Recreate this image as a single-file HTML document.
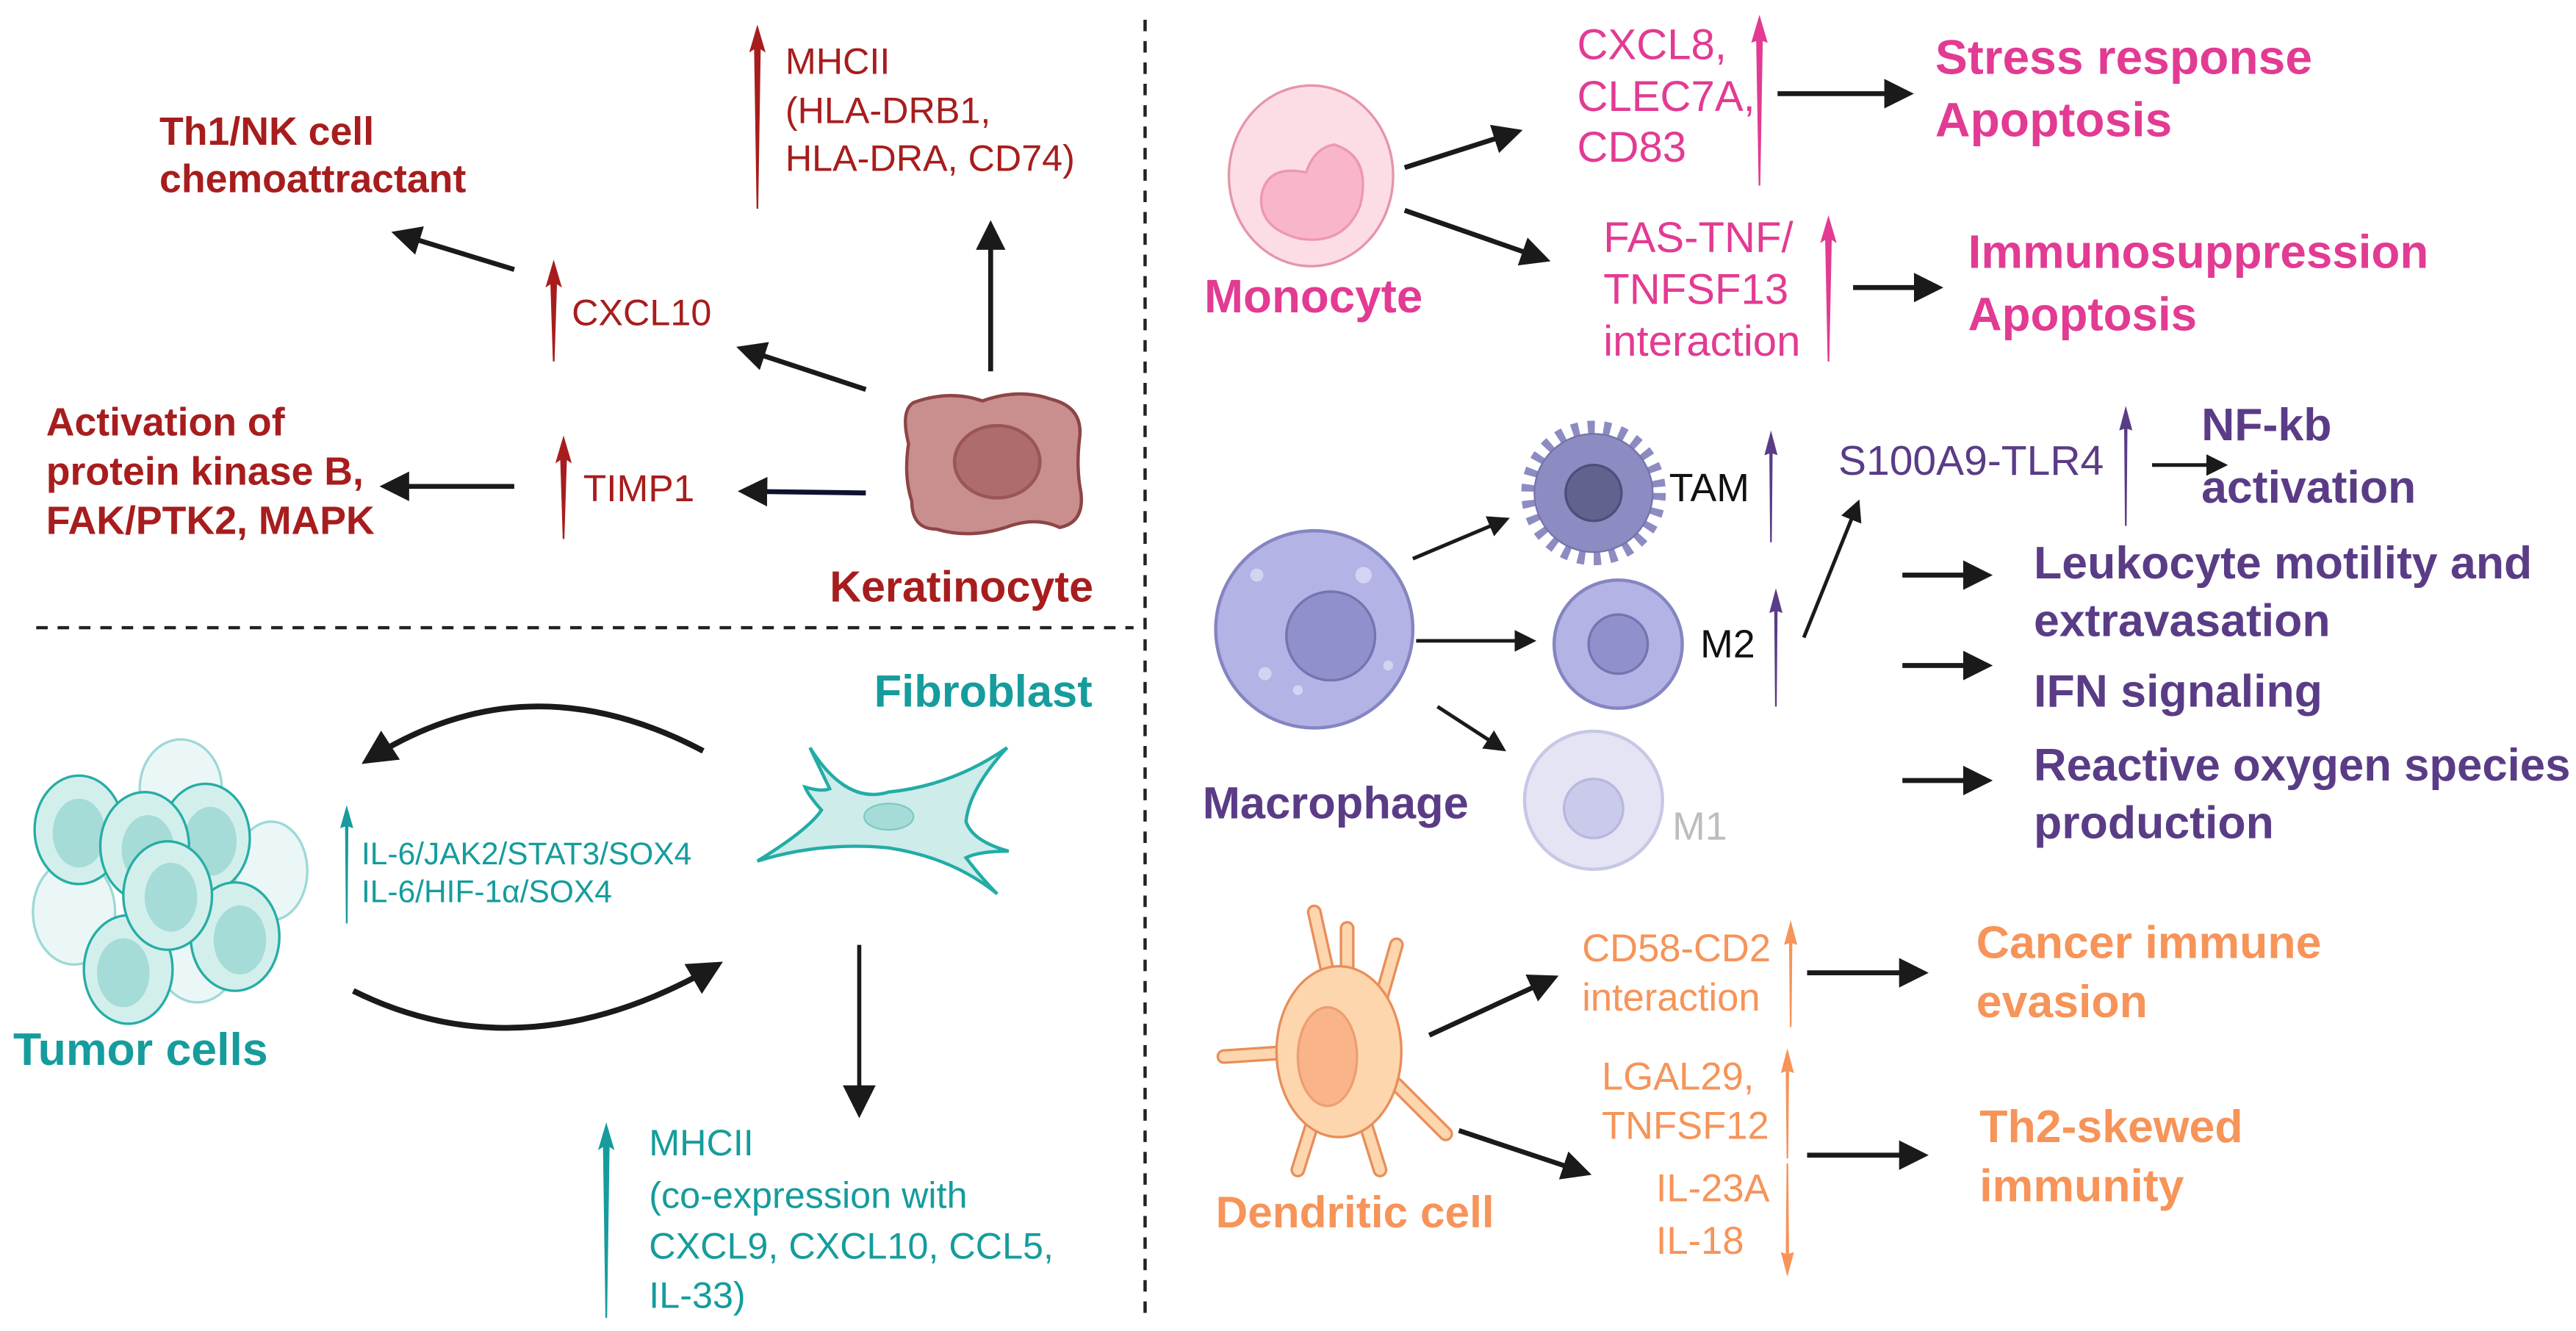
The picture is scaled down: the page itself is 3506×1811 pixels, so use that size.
<!DOCTYPE html>
<html><head><meta charset="utf-8"><style>
html,body{margin:0;padding:0;background:#fff;}
svg{display:block;}
text{font-family:"Liberation Sans",Arial,sans-serif;}
.b{font-weight:bold;}
</style></head><body>
<svg width="3506" height="1811" viewBox="0 0 1568 810" xmlns="http://www.w3.org/2000/svg">
<defs>
<marker id="ah" markerWidth="6" markerHeight="6" refX="5" refY="3" orient="auto" markerUnits="strokeWidth"><path d="M0,0 L6,3 L0,6 Z" fill="#1a1a1a"/></marker>
<marker id="ahs" markerWidth="8" markerHeight="8" refX="7" refY="4" orient="auto" markerUnits="strokeWidth"><path d="M0,0 L8,4 L0,8 Z" fill="#1a1a1a"/></marker>
</defs>

<!-- dividers -->
<line x1="697" y1="12" x2="697" y2="805" stroke="#222" stroke-width="2" stroke-dasharray="7,6"/>
<line x1="22" y1="382" x2="690" y2="382" stroke="#222" stroke-width="2" stroke-dasharray="7,6"/>

<!-- ===== Keratinocyte ===== -->
<g fill="#A71D1D">
<text class="b" x="97" y="88" font-size="24">Th1/NK cell</text>
<text class="b" x="97" y="117" font-size="24">chemoattractant</text>
<text x="478" y="45" font-size="22.5">MHCII</text>
<text x="478" y="75" font-size="22.5">(HLA-DRB1,</text>
<text x="478" y="104" font-size="22.5">HLA-DRA, CD74)</text>
<text x="348" y="198" font-size="22.5">CXCL10</text>
<text x="355" y="305" font-size="23">TIMP1</text>
<text class="b" x="28" y="265" font-size="24">Activation of</text>
<text class="b" x="28" y="295" font-size="24">protein kinase B,</text>
<text class="b" x="28" y="325" font-size="24">FAK/PTK2, MAPK</text>
<text class="b" x="505" y="366" font-size="26.5">Keratinocyte</text>
<polygon points="461,15 466,32 463,30 461.5,127 460.5,127 459,30 456,32"/>
<polygon points="337,158 342,175 339,173 337.5,220 336.5,220 335,173 332,175"/>
<polygon points="343,265 348,282 345,280 343.5,328 342.5,328 341,280 338,282"/>
</g>
<g stroke="#1a1a1a" stroke-width="3" fill="none" marker-end="url(#ah)">
<line x1="603" y1="226" x2="603" y2="137"/>
<line x1="313" y1="164" x2="241" y2="142"/>
<line x1="527" y1="237" x2="451" y2="212"/>
<line x1="313" y1="296" x2="234" y2="296"/>
<line x1="527" y1="300" x2="452" y2="299" stroke="#101030"/>
</g>
<path d="M556,245 Q578,237 598,244 Q620,236 640,243 Q660,248 657,268 Q655,285 658,300 Q660,318 645,321 Q630,314 612,321 Q590,328 570,322 Q555,322 555,305 Q550,290 553,270 Q548,250 556,245 Z" fill="#C98F8F" stroke="#8E4545" stroke-width="2"/>
<ellipse cx="607" cy="281" rx="22" ry="26" transform="rotate(90 607 281)" fill="#AE6C6C" stroke="#9A5656" stroke-width="2"/>

<!-- ===== Fibroblast / tumor ===== -->
<g fill="#169C9C">
<text class="b" x="532" y="430" font-size="27.5">Fibroblast</text>
<text x="220" y="526" font-size="19">IL-6/JAK2/STAT3/SOX4</text>
<text x="220" y="549" font-size="19">IL-6/HIF-1α/SOX4</text>
<text class="b" x="8" y="648" font-size="28">Tumor cells</text>
<text x="395" y="703" font-size="22.5">MHCII</text>
<text x="395" y="735" font-size="22.5">(co-expression with</text>
<text x="395" y="766" font-size="22.5">CXCL9, CXCL10, CCL5,</text>
<text x="395" y="796" font-size="22.5">IL-33)</text>
<polygon points="211,490 215,504 212,503 211.5,562 210.5,562 210,503 207,504"/>
<polygon points="369,683 374,700 371,698 369.5,802 368.5,802 367,698 364,700"/>
</g>
<g stroke="#1a1a1a" stroke-width="3.5" fill="none" marker-end="url(#ah)">
<path d="M428,457 Q320,400 223,463"/>
<path d="M215,603 Q320,655 437,587"/>
</g>
<line x1="523" y1="575" x2="523" y2="678" stroke="#1a1a1a" stroke-width="2.5" marker-end="url(#ahs)"/>
<path d="M493,455 Q515,490 541,482 Q580,478 613,455 Q590,480 588,500 Q592,512 614,518 Q596,518 588,522 Q598,535 607,544 Q580,522 541,516 Q500,512 461,524 Q492,505 500,493 Q492,484 490,479 Q500,482 505,480 Z" fill="#CDECEA" stroke="#23ACA6" stroke-width="2"/>
<ellipse cx="541" cy="497" rx="15" ry="8" fill="#A6DCD8" stroke="#7CC9C3" stroke-width="1"/>
<g stroke="#27ADA5" stroke-width="1.5">
<g opacity="0.45">
<ellipse cx="110" cy="480" rx="25" ry="30" fill="#D3EFEC"/>
<ellipse cx="165" cy="530" rx="22" ry="30" fill="#D3EFEC"/>
<ellipse cx="45" cy="555" rx="25" ry="32" fill="#D3EFEC"/>
<ellipse cx="120" cy="580" rx="25" ry="30" fill="#D3EFEC"/>
</g>
<ellipse cx="48" cy="505" rx="27" ry="33" fill="#D3EFEC"/><ellipse cx="48" cy="507" rx="16" ry="21" fill="#A6DCD8" stroke="none"/>
<ellipse cx="125" cy="510" rx="27" ry="33" fill="#D3EFEC"/><ellipse cx="128" cy="512" rx="16" ry="21" fill="#A6DCD8" stroke="none"/>
<ellipse cx="88" cy="515" rx="27" ry="33" fill="#D3EFEC"/><ellipse cx="90" cy="517" rx="16" ry="21" fill="#A6DCD8" stroke="none"/>
<ellipse cx="143" cy="570" rx="27" ry="33" fill="#D3EFEC"/><ellipse cx="146" cy="572" rx="16" ry="21" fill="#A6DCD8" stroke="none"/>
<ellipse cx="78" cy="590" rx="27" ry="33" fill="#D3EFEC"/><ellipse cx="75" cy="592" rx="16" ry="21" fill="#A6DCD8" stroke="none"/>
<ellipse cx="102" cy="545" rx="27" ry="33" fill="#D3EFEC"/><ellipse cx="104" cy="546" rx="16" ry="21" fill="#A6DCD8" stroke="none"/>
</g>

<!-- ===== Monocyte ===== -->
<g fill="#E23B93">
<text class="b" x="733" y="190" font-size="28.5">Monocyte</text>
<text x="960" y="36" font-size="26">CXCL8,</text>
<text x="960" y="67.5" font-size="26">CLEC7A,</text>
<text x="960" y="98.5" font-size="26">CD83</text>
<text x="976" y="153.5" font-size="26">FAS-TNF/</text>
<text x="976" y="185" font-size="26">TNFSF13</text>
<text x="976" y="216.5" font-size="26">interaction</text>
<text class="b" x="1178" y="45" font-size="29.5">Stress response</text>
<text class="b" x="1178" y="83" font-size="29.5">Apoptosis</text>
<text class="b" x="1198" y="163" font-size="28.5">Immunosuppression</text>
<text class="b" x="1198" y="201" font-size="28.5">Apoptosis</text>
<polygon points="1071,9 1076,26 1073,25 1071.5,113 1070.5,113 1069,25 1066,26"/>
<polygon points="1113,131 1118,148 1115,146 1113.5,220 1112.5,220 1111,146 1108,148"/>
</g>
<g stroke="#1a1a1a" stroke-width="3" fill="none" marker-end="url(#ah)">
<line x1="855" y1="102" x2="924" y2="80"/>
<line x1="855" y1="128" x2="941" y2="158"/>
<line x1="1082" y1="57" x2="1162" y2="57"/>
<line x1="1128" y1="175" x2="1180" y2="175"/>
</g>
<ellipse cx="798" cy="107" rx="50" ry="55" fill="#FDDDE5" stroke="#E595A8" stroke-width="1.5"/>
<path d="M812,88 Q835,95 828,125 Q818,150 790,145 Q765,138 768,118 Q772,100 795,105 Q800,90 812,88 Z" fill="#F9B6C9" stroke="#EC98B0" stroke-width="1.5"/>

<!-- ===== Macrophage ===== -->
<g fill="#5A3C86">
<text class="b" x="732" y="498" font-size="27.5">Macrophage</text>
<text x="1119" y="289" font-size="25.5">S100A9-TLR4</text>
<text class="b" x="1340" y="268" font-size="28">NF-kb</text>
<text class="b" x="1340" y="306" font-size="28">activation</text>
<text class="b" x="1238" y="352" font-size="28">Leukocyte motility and</text>
<text class="b" x="1238" y="387" font-size="28">extravasation</text>
<text class="b" x="1238" y="430" font-size="28">IFN signaling</text>
<text class="b" x="1238" y="475" font-size="27.6">Reactive oxygen species</text>
<text class="b" x="1238" y="510" font-size="28">production</text>
<polygon points="1078,262 1082,277 1079,276 1078.5,330 1077.5,330 1077,276 1074,277"/>
<polygon points="1081,358 1085,373 1082,372 1081.5,430 1080.5,430 1080,372 1077,373"/>
<polygon points="1294,247 1298,262 1295,261 1294.5,320 1293.5,320 1293,261 1290,262"/>
</g>
<text x="1016" y="305" font-size="24" fill="#111">TAM</text>
<text x="1035" y="400" font-size="24" fill="#111">M2</text>
<text x="1018" y="511" font-size="24" fill="#BDBDBD">M1</text>
<g stroke="#1a1a1a" stroke-width="2.2" fill="none" marker-end="url(#ah)">
<line x1="860" y1="340" x2="917" y2="316"/>
<line x1="862" y1="390" x2="933" y2="390"/>
<line x1="875" y1="430" x2="915" y2="456"/>
<line x1="1098" y1="388" x2="1131" y2="306"/>
<line x1="1310" y1="283" x2="1354" y2="283"/>
</g>
<g stroke="#1a1a1a" stroke-width="3" fill="none" marker-end="url(#ah)">
<line x1="1158" y1="350" x2="1210" y2="350"/>
<line x1="1158" y1="405" x2="1210" y2="405"/>
<line x1="1158" y1="475" x2="1210" y2="475"/>
</g>
<ellipse cx="800" cy="383" rx="60" ry="60" fill="#B3B3E6" stroke="#8585C2" stroke-width="2"/>
<circle cx="810" cy="387" r="27" fill="#9090CC" stroke="#7474B0" stroke-width="1.5"/>
<g fill="#D4D4F2"><circle cx="765" cy="350" r="4"/><circle cx="830" cy="350" r="5"/><circle cx="770" cy="410" r="4"/><circle cx="845" cy="405" r="3"/><circle cx="790" cy="420" r="3"/></g>
<circle cx="970" cy="300" r="37" fill="none" stroke="#8C8CC2" stroke-width="14" stroke-dasharray="4,5"/>
<circle cx="970" cy="300" r="36" fill="#8C8CC2" stroke="#7373AA" stroke-width="1"/>
<circle cx="970" cy="300" r="17" fill="#62628F" stroke="#4E4E7A" stroke-width="1.5"/>
<circle cx="985" cy="392" r="39" fill="#B3B3E6" stroke="#8585C2" stroke-width="2"/>
<circle cx="985" cy="392" r="18" fill="#9090CC" stroke="#7474B0" stroke-width="1.5"/>
<circle cx="970" cy="487" r="42" fill="#E4E4F5" stroke="#C7C7E6" stroke-width="2"/>
<circle cx="970" cy="492" r="18" fill="#CACAEB" stroke="#B8B8DE" stroke-width="1.5"/>

<!-- ===== Dendritic ===== -->
<g fill="#F69459">
<text class="b" x="740" y="747" font-size="27">Dendritic cell</text>
<text x="963" y="585" font-size="23.5">CD58-CD2</text>
<text x="963" y="615" font-size="23.5">interaction</text>
<text x="975" y="663" font-size="23.5">LGAL29,</text>
<text x="975" y="693" font-size="23.5">TNFSF12</text>
<text x="1008" y="731" font-size="23.5">IL-23A</text>
<text x="1008" y="763" font-size="23.5">IL-18</text>
<text class="b" x="1203" y="583" font-size="28">Cancer immune</text>
<text class="b" x="1203" y="619" font-size="28">evasion</text>
<text class="b" x="1205" y="695" font-size="28">Th2-skewed</text>
<text class="b" x="1205" y="731" font-size="28">immunity</text>
<polygon points="1090,560 1094,575 1091,574 1090.5,625 1089.5,625 1089,574 1086,575"/>
<polygon points="1088,638 1092,653 1089,652 1088.5,705 1087.5,705 1087,652 1084,653"/>
<polygon points="1088,777 1092,762 1089,763 1088.5,708 1087.5,708 1087,763 1084,762"/>
</g>
<g stroke="#1a1a1a" stroke-width="3" fill="none" marker-end="url(#ah)">
<line x1="870" y1="630" x2="946" y2="595"/>
<line x1="888" y1="688" x2="966" y2="714"/>
<line x1="1100" y1="592" x2="1171" y2="592"/>
<line x1="1100" y1="703" x2="1171" y2="703"/>
</g>
<g stroke-linecap="round" fill="none">
<g stroke="#E88E5A" stroke-width="9">
<path d="M810,600 L800,555"/><path d="M820,600 L820,565"/><path d="M840,610 L850,575"/><path d="M790,640 L745,643"/><path d="M800,680 L790,712"/><path d="M830,680 L840,712"/><path d="M850,660 L880,690"/>
</g>
<g stroke="#FDD6AE" stroke-width="6">
<path d="M810,600 L800,555"/><path d="M820,600 L820,565"/><path d="M840,610 L850,575"/><path d="M790,640 L745,643"/><path d="M800,680 L790,712"/><path d="M830,680 L840,712"/><path d="M850,660 L880,690"/>
</g>
</g>
<ellipse cx="815" cy="640" rx="38" ry="52" fill="#FDD6AE" stroke="#E88E5A" stroke-width="1.5"/>
<ellipse cx="808" cy="643" rx="18" ry="30" fill="#F9B48A" stroke="#EE9E74" stroke-width="1.5"/>
</svg>
</body></html>
